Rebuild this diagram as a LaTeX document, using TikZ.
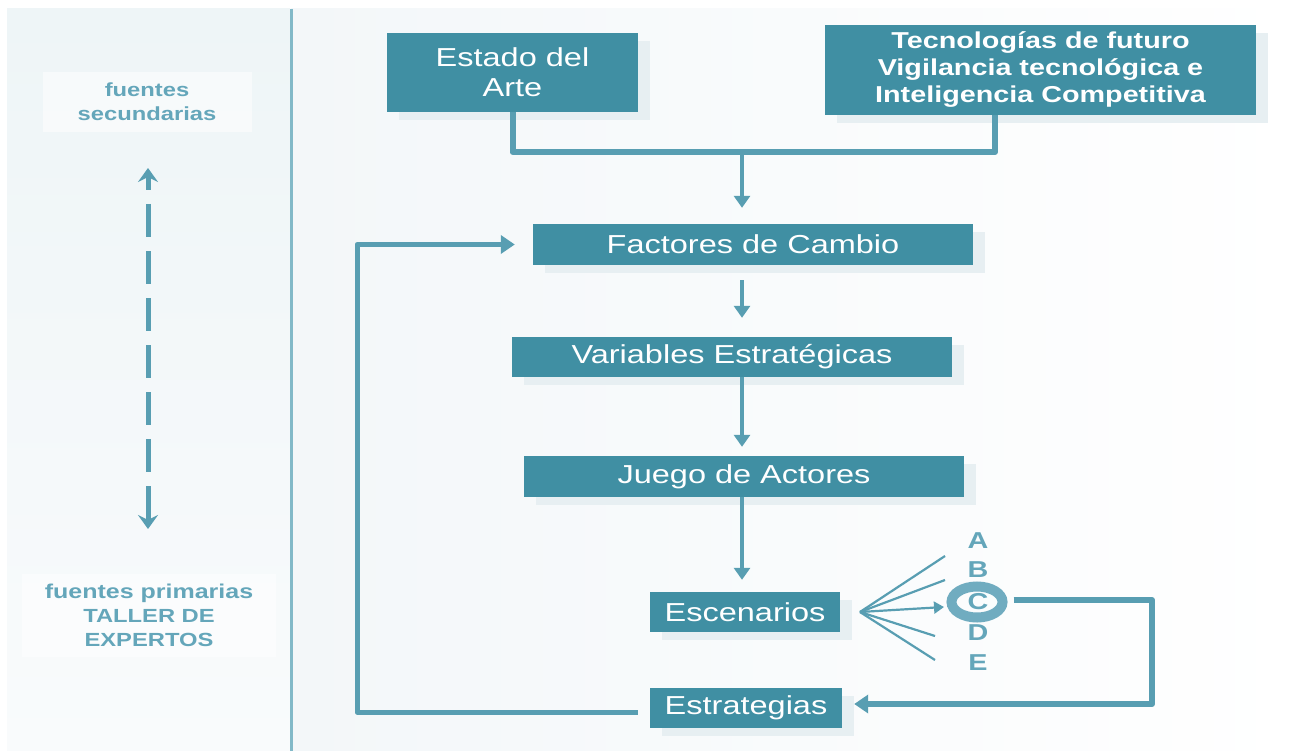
\documentclass[tikz,border=0pt]{standalone}
\usepackage{fontspec}
\setmainfont{Liberation Sans}[FakeStretch=1.25]
\usetikzlibrary{arrows.meta,shadows,calc,shapes.geometric}
\definecolor{boxfill}{RGB}{64,143,163}
\definecolor{linec}{RGB}{88,158,178}
\definecolor{labelc}{RGB}{100,166,186}
\definecolor{shadowc}{RGB}{231,239,242}
\definecolor{leftbgtop}{RGB}{238,245,247}
\definecolor{leftbgbot}{RGB}{249,251,252}
\definecolor{rightbg}{RGB}{243,247,249}
\definecolor{vlinec}{RGB}{130,185,200}
\definecolor{ringc}{RGB}{112,172,192}
\begin{document}
\begin{tikzpicture}[x=1pt,y=-1pt,
  mainbox/.style={fill=boxfill, text=white, inner sep=0pt, align=center,
    font=\fontsize{26}{30}\selectfont,
    drop shadow={shadow xshift=12pt, shadow yshift=-8pt, fill=shadowc, opacity=1}},
  sidebox/.style={fill=white, fill opacity=0.55, text opacity=1, text=labelc, inner sep=0pt, align=center,
    font=\bfseries\fontsize{19}{24}\selectfont},
  letter/.style={text=labelc, font=\bfseries\fontsize{23}{24}\selectfont, inner sep=0pt},
  thick line/.style={draw=linec, line width=6pt, line join=round},
  arr/.style={draw=linec, line width=4pt, -{Triangle[length=12pt,width=16pt]}},
  fan/.style={draw=linec, line width=2.2pt},
]
\useasboundingbox (0,0) rectangle (1297,751);
\fill[white] (0,0) rectangle (1297,751);
\shade[left color=rightbg, right color=white] (291,9) rectangle (1297,751);
\shade[top color=leftbgtop, bottom color=leftbgbot] (7,9) rectangle (290,751);
\draw[vlinec, line width=3pt] (291,9) -- (291,751);

% left side
\node[sidebox, minimum width=209pt, minimum height=60pt] (sec) at (147,102) {fuentes\\secundarias};
\node[sidebox, minimum width=254pt, minimum height=83pt] (prim) at (149,615) {\fontsize{20}{24}\selectfont fuentes primarias\\TALLER DE\\EXPERTOS};
\coordinate (dtop) at (148,168);
\coordinate (dbot) at (148,529);
\draw[linec, line width=5pt, dash pattern=on 33pt off 14pt, dash phase=-20pt] ($(dtop)+(0,16)$) -- ($(dbot)+(0,-16)$);
\draw[linec, line width=5pt, -{Stealth[length=14pt,width=20pt,inset=5pt]}] ($(dtop)+(0,16)$) -- (dtop);
\draw[linec, line width=5pt, -{Stealth[length=14pt,width=20pt,inset=5pt]}] ($(dbot)+(0,-16)$) -- (dbot);

% main boxes
\node[mainbox, minimum width=251pt, minimum height=79pt] (estado) at (512.5,72.5) {Estado del\\Arte};
\node[mainbox, minimum width=431pt, minimum height=90pt, font=\bfseries\fontsize{23}{27}\selectfont] (tecno) at (1040.5,70) {Tecnologías de futuro\\Vigilancia tecnológica e\\Inteligencia Competitiva};
\node[mainbox, minimum width=440pt, minimum height=41pt] (factores) at (753,244.5) {Factores de Cambio};
\node[mainbox, minimum width=440pt, minimum height=40pt] (variables) at (732,357) {Variables Estratégicas};
\node[mainbox, minimum width=440pt, minimum height=41pt] (juego) at (744,476.5) {Juego de Actores};
\node[mainbox, minimum width=190pt, minimum height=40pt] (escen) at (745,612) {Escenarios};
\node[mainbox, minimum width=192pt, minimum height=40pt] (estrat) at (746,708) {Estrategias};

\coordinate (ax) at (742,0);
\coordinate (merge) at (742,152);
% top bracket
\draw[thick line] (estado.south) -- (estado.south |- merge) -- (merge -| 995,0) -- (995,0 |- tecno.south);
\draw[arr] (merge) -- ($(ax |- factores.north)+(0,-16)$);
\draw[arr] ($(ax |- factores.south)+(0,15)$) -- ($(ax |- variables.north)+(0,-19)$);
\draw[arr] (ax |- variables.south) -- ($(ax |- juego.north)+(0,-9)$);
\draw[arr] (ax |- juego.south) -- ($(ax |- escen.north)+(0,-12)$);

% feedback loop
\coordinate (fbx) at (357,0);
\draw[draw=linec, line width=5pt, line join=round, -{Triangle[length=14pt,width=18pt]}]
  ($(estrat.west)+(-12,4)$) -- ($(fbx |- estrat.west)+(0,4)$) -- (fbx |- factores.west) -- ($(factores.west)+(-18,0)$);

% fan and letters
\coordinate (fo) at (860,612);
\node[letter] (A) at (978,541) {A};
\node[letter] (B) at (978,570) {B};
\node[draw=ringc, line width=10pt, ellipse, minimum width=51pt, minimum height=31pt, inner sep=0pt] (ring) at (977,602) {};
\node[letter] (C) at (978,602) {C};
\node[letter] (D) at (978,633) {D};
\node[letter] (E) at (978,663) {E};
\draw[fan] (fo) -- (945,556);
\draw[fan] (fo) -- (945,580);
\draw[fan] (fo) -- (935,636);
\draw[fan] (fo) -- (935,660);
\draw[fan, -{Triangle[length=10pt,width=12pt]}] (fo) -- (944,607);

% right loop
\coordinate (rx) at (1152,0);
\draw[draw=linec, line width=6pt, line join=round, -{Triangle[length=14pt,width=18pt]}]
  ($(ring.east)+(6,-2)$) -- ($(rx |- ring.east)+(0,-2)$) -- ($(rx |- estrat.east)+(0,-4)$) -- ($(estrat.east)+(12,-4)$);
\end{tikzpicture}
\end{document}
